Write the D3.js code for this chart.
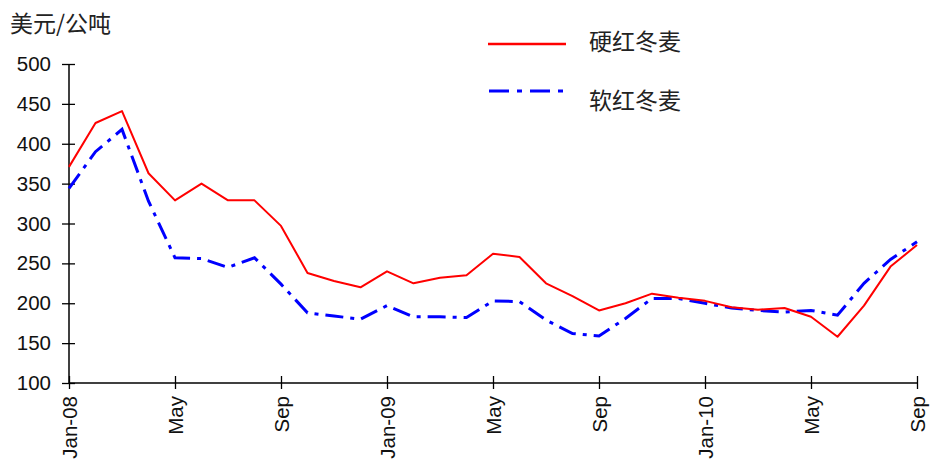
<!DOCTYPE html>
<html><head><meta charset="utf-8">
<script src="https://cdn.jsdelivr.net/npm/d3@7/dist/d3.min.js"></script>
<style>body{margin:0;background:#fff}svg{display:block}</style>
</head><body>
<svg id="c" width="946" height="472"></svg>
<script>
const months = ["Jan-08","Feb-08","Mar-08","Apr-08","May-08","Jun-08","Jul-08","Aug-08","Sep-08","Oct-08","Nov-08","Dec-08",
"Jan-09","Feb-09","Mar-09","Apr-09","May-09","Jun-09","Jul-09","Aug-09","Sep-09","Oct-09","Nov-09","Dec-09",
"Jan-10","Feb-10","Mar-10","Apr-10","May-10","Jun-10","Jul-10","Aug-10","Sep-10"];
const hardRed = [371,426,441,363,329,350,329,329,297,238,228,220,240,225,232,235,262,258,225,209,191,200,212,207,203,195,192,194,183,158,197,246,273];
const softRed = [344,390,418,328,257,256,245,257,224,188,184,180,197,183,183,182,203,202,179,162,159,181,206,206,200,194,191,189,191,185,225,255,277];
const tickIdx = [0,4,8,12,16,20,24,28,32];
const tickLabels = ["Jan-08","May","Sep","Jan-09","May","Sep","Jan-10","May","Sep"];
const yTicks = [100,150,200,250,300,350,400,450,500];
const seriesNames = ["硬红冬麦","软红冬麦"];
const unitLabel = "美元/公吨";

const svg = d3.select("#c");
const x = d3.scaleLinear().domain([0, months.length-1]).range([69, 917]);
const y = d3.scaleLinear().domain([100, 500]).range([383, 64]);

// axes
const ya = svg.append("g").attr("transform","translate(69,0)")
  .call(d3.axisLeft(y).tickValues(yTicks).tickSize(7).tickPadding(10));
ya.select(".domain").attr("stroke","#000").attr("stroke-width",1.5).attr("d","M0,"+y(500)+"V"+y(100));
ya.selectAll(".tick line").attr("x1",6).attr("x2",-7).attr("stroke","#000").attr("stroke-width",1.3);
ya.selectAll(".tick text").attr("font-family","Liberation Sans, Arial, sans-serif").attr("font-size",20.5).attr("fill","#111").attr("dx",-1);

const xa = svg.append("g").attr("transform","translate(0,383)")
  .call(d3.axisBottom(x).tickValues(tickIdx).tickFormat((d,i)=>tickLabels[i]).tickSize(6));
xa.select(".domain").attr("stroke","#000").attr("stroke-width",1.5).attr("d","M"+x(0)+",0H"+x(32));
xa.selectAll(".tick line").attr("y1",-7).attr("y2",6).attr("stroke","#000").attr("stroke-width",1.3);
xa.selectAll(".tick text")
  .attr("font-family","Liberation Sans, Arial, sans-serif").attr("font-size",20.5).attr("fill","#111")
  .attr("transform","rotate(-90)").attr("text-anchor","end").attr("x",-13).attr("y",0).attr("dy","0.35em");

const line = d3.line().x((d,i)=>x(i)).y(d=>y(d));
svg.append("path").datum(softRed).attr("d",line).attr("fill","none")
  .attr("stroke","#0000ff").attr("stroke-width",3).attr("stroke-dasharray","18,7,4,7");
svg.append("path").datum(hardRed).attr("d",line).attr("fill","none")
  .attr("stroke","#ff0000").attr("stroke-width",2).attr("stroke-linejoin","round");

// unit label
svg.append("text").attr("x",10).attr("y",32).text(unitLabel)
  .attr("font-family","Noto Sans CJK SC, sans-serif").attr("font-size",23).attr("fill","#222");

// legend
const lg = svg.append("g");
lg.append("line").attr("x1",488).attr("x2",566).attr("y1",44).attr("y2",44).attr("stroke","#ff0000").attr("stroke-width",2.5);
lg.append("line").attr("x1",489).attr("x2",566).attr("y1",91).attr("y2",91).attr("stroke","#0000ff").attr("stroke-width",3).attr("stroke-dasharray","20,8,5,8");
lg.selectAll("text.l").data(seriesNames).enter().append("text")
  .attr("x",589).attr("y",(d,i)=>i?108.5:49.5).text(d=>d)
  .attr("font-family","Noto Sans CJK SC, sans-serif").attr("font-size",23).attr("fill","#222");
</script>
</body></html>
